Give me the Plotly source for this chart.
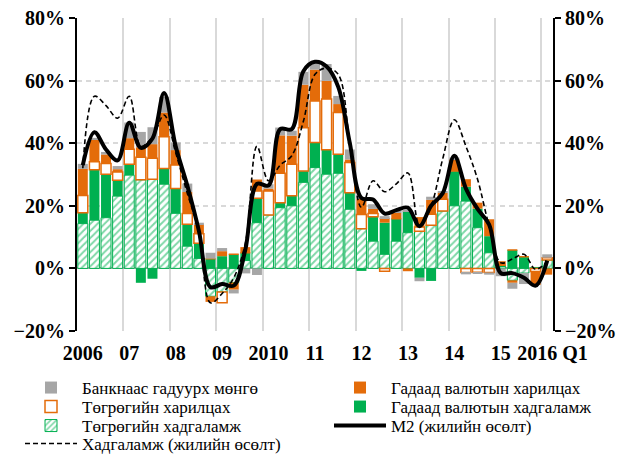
import plotly.graph_objects as go

# Quarters 2006Q1 .. 2016Q1
quarters = ["2006Q1","2006Q2","2006Q3","2006Q4","2007Q1","2007Q2","2007Q3","2007Q4",
            "2008Q1","2008Q2","2008Q3","2008Q4","2009Q1","2009Q2","2009Q3","2009Q4",
            "2010Q1","2010Q2","2010Q3","2010Q4","2011Q1","2011Q2","2011Q3","2011Q4",
            "2012Q1","2012Q2","2012Q3","2012Q4","2013Q1","2013Q2","2013Q3","2013Q4",
            "2014Q1","2014Q2","2014Q3","2014Q4","2015Q1","2015Q2","2015Q3","2015Q4",
            "2016Q1"]
tick_labels = ["2006", "07", "08", "09", "2010", "11", "12", "13", "14", "15", "2016 Q1"]
tick_quarters = ["2006Q1","2007Q1","2008Q1","2009Q1","2010Q1","2011Q1","2012Q1",
                 "2013Q1","2014Q1","2015Q1","2016Q1"]

# Contributions (percentage points)
tug_deposits = [14.3, 15.4, 16.2, 23.1, 29.8, 28.3, 28.5, 26.9, 17.6, 7.1, 3.2, -8.9, -7.5, -4.5, 2.5, 14.6,
                17.1, 19.4, 20.0, 27.5, 32.2, 30.1, 30.4, 18.9, 12.7, 8.7, 4.5, 8.7, 11.4, 11.9, 13.8, 18.3,
                20.0, 21.5, 13.0, 5.0, 0.5, -3.8, -1.5, 0.3, 2.7]
fx_deposits = [3.5, 16.1, 13.9, 5.1, 3.5, -4.6, -3.3, 5.0, 7.9, 7.0, 4.8, 3.1, 3.9, 4.5, 2.5, 7.8,
               0.0, 1.6, 3.2, 3.6, 8.0, 7.8, 6.1, 5.3, -0.8, 7.8, 10.1, 7.2, 6.9, -3.0, -4.0, 0.0,
               11.1, 4.6, 6.1, 5.3, 0.5, 5.9, 3.7, 0.0, 0.0]
tug_current = [5.5, 2.6, 3.4, 2.6, 4.8, 7.2, 6.7, 10.2, 7.5, 3.4, 3.1, 0.0, -3.5, 0.0, 0.0, 2.3,
               7.6, 9.4, 10.1, 13.8, 13.3, 16.2, 13.3, 9.6, 4.5, 1.0, -0.9, 0.0, 0.0, 1.3, 3.5, 3.8,
               0.5, -1.3, -1.2, -1.3, 0.0, 0.0, 0.0, -1.0, 0.7]
fx_current = [8.5, 7.0, 2.9, 0.9, 3.5, 3.2, 4.5, 7.7, 4.8, 6.9, 3.0, -1.8, 1.6, -2.3, 1.8, 3.7,
              0.8, 12.1, 9.1, 13.8, 10.0, 5.8, 2.7, 1.0, 5.0, 1.5, 1.5, 1.9, -0.9, 3.2, 4.6, 2.1,
              3.3, 2.4, 1.9, 5.4, 1.3, -0.8, 0.0, -4.3, -2.0]
cash = [1.6, 0.6, 0.8, 1.0, 5.0, 4.9, 5.4, 5.0, 2.4, 2.7, 0.5, 1.9, 1.0, -1.2, -1.6, -2.1,
        1.4, 2.5, 1.6, 4.1, 2.6, 5.4, 2.6, 3.2, 0.6, 1.5, 0.6, 0.3, 0.4, -1.1, 1.0, 0.5,
        0.5, -0.6, -0.6, -0.7, -2.5, -1.9, -3.5, 0.0, 1.1]
m2_growth = [33.0, 43.5, 38.0, 34.5, 46.5, 38.5, 41.5, 56.0, 39.0, 26.5, 12.0, -6.0, -5.0, -5.5, 6.0, 27.0,
             26.5, 44.5, 44.5, 63.0, 66.0, 64.5, 58.0, 40.0, 22.5, 22.0, 17.5, 18.6, 19.4, 13.5, 20.0, 24.0,
             36.0, 25.5, 19.0, 14.0, -1.5, -1.5, -3.0, -5.5, 2.5]
deposit_growth = [32.0, 55.0, 52.0, 48.0, 55.0, 39.0, 42.0, 49.0, 37.0, 24.0, 12.0, -11.0, -8.0, -3.0, 8.0, 39.0,
                  28.0, 33.0, 36.0, 47.0, 62.0, 64.0, 62.0, 40.0, 19.5, 28.0, 24.5, 27.0, 30.5, 13.8, 20.0, 35.0,
                  47.5, 39.0, 28.5, 13.5, 1.8, 3.0, 4.5, -0.3, 2.3]

x = list(range(len(quarters)))
tickvals = [quarters.index(q) for q in tick_quarters]
# the last label ("2016 Q1") sits a little right of its bar, as in the reference
tickvals[-1] = tickvals[-1] + 0.45

GREEN = "#00b050"
ORANGE = "#e46c0a"
GRAY = "#a6a6a6"
FONT = "Liberation Serif"

fig = go.Figure()
fig.add_trace(go.Bar(x=x, y=tug_deposits, name="Төгрөгийн хадгаламж",
                     marker=dict(color="white",
                                 pattern=dict(shape="/", fgcolor=GREEN, bgcolor="white", size=5, solidity=0.4),
                                 line=dict(color=GREEN, width=1)),
                     legend="legend3"))
fig.add_trace(go.Bar(x=x, y=fx_deposits, name="Гадаад валютын хадгаламж",
                     marker=dict(color=GREEN, line=dict(width=0)),
                     legend="legend6"))
fig.add_trace(go.Bar(x=x, y=tug_current, name="Төгрөгийн харилцах",
                     marker=dict(color="white", line=dict(color=ORANGE, width=1.5)),
                     legend="legend2"))
fig.add_trace(go.Bar(x=x, y=fx_current, name="Гадаад валютын харилцах",
                     marker=dict(color=ORANGE, line=dict(width=0)),
                     legend="legend5"))
fig.add_trace(go.Bar(x=x, y=cash, name="Банкнаас гадуурх мөнгө",
                     marker=dict(color=GRAY, line=dict(width=0)),
                     legend="legend"))
fig.add_trace(go.Scatter(x=x, y=deposit_growth, name="Хадгаламж (жилийн өсөлт)", mode="lines",
                         line=dict(color="black", width=1.6, dash="5px,3px", shape="spline", smoothing=1.0),
                         legend="legend4"))
fig.add_trace(go.Scatter(x=x, y=m2_growth, name="M2 (жилийн өсөлт)", mode="lines",
                         line=dict(color="black", width=4, shape="spline", smoothing=1.0),
                         legend="legend7"))
# invisible trace to bring up the right axis
fig.add_trace(go.Scatter(x=[x[0]], y=[None], yaxis="y2", showlegend=False, hoverinfo="skip"))

tickfont = dict(family=FONT, size=20, color="black", weight="bold")
legfont = dict(family=FONT, size=17, color="black")

PLOT_L, PLOT_R, PLOT_T, PLOT_B = 77, 553, 18, 331
PW, PH = PLOT_R - PLOT_L, PLOT_B - PLOT_T


def leg(px, py):
    return dict(x=(px - PLOT_L) / PW, y=(PLOT_B - py) / PH, xanchor="left", yanchor="middle",
                font=legfont, bgcolor="rgba(0,0,0,0)", itemwidth=52, borderwidth=0)


fig.update_layout(
    width=619, height=455,
    margin=dict(l=PLOT_L, r=619 - PLOT_R, t=PLOT_T, b=455 - PLOT_B, autoexpand=False),
    paper_bgcolor="white", plot_bgcolor="white",
    barmode="relative", bargap=0.14,
    showlegend=True,
    xaxis=dict(range=[-0.5, len(quarters) - 0.5], tickmode="array", tickvals=tickvals,
               ticktext=tick_labels, tickfont=tickfont, tickangle=0, showgrid=False, zeroline=False,
               showline=False, ticks="", ticklabelstandoff=8,
               minor=dict(tick0=-0.5, dtick=4, showgrid=True, gridcolor="#d9d9d9", gridwidth=2, ticks="")),
    yaxis=dict(range=[-20, 80], tickmode="linear", tick0=0, dtick=20, ticksuffix="%",
               tickfont=tickfont, showgrid=True, gridcolor="#d9d9d9", griddash="5px,4px", gridwidth=1.5,
               zeroline=True, zerolinecolor="#a6a6a6", zerolinewidth=1.5,
               showline=True, linecolor="black", linewidth=2,
               ticks="outside", ticklen=6, tickwidth=2, tickcolor="black"),
    yaxis2=dict(range=[-20, 80], tickmode="linear", tick0=0, dtick=20, ticksuffix="%",
                tickfont=tickfont, overlaying="y", side="right", anchor="x",
                showgrid=False, zeroline=False, showline=True, linecolor="black", linewidth=2,
                ticks="outside", ticklen=6, tickwidth=2, tickcolor="black"),
    legend=leg(20, 388),
    legend2=leg(20, 407),
    legend3=leg(20, 426),
    legend4=leg(20, 444),
    legend5=leg(329, 388),
    legend6=leg(329, 407),
    legend7=leg(329, 426),
)

fig.write_html("out.html", config={"displayModeBar": False},
               post_script="document.body.style.margin='0';document.body.style.overflow='hidden';")
